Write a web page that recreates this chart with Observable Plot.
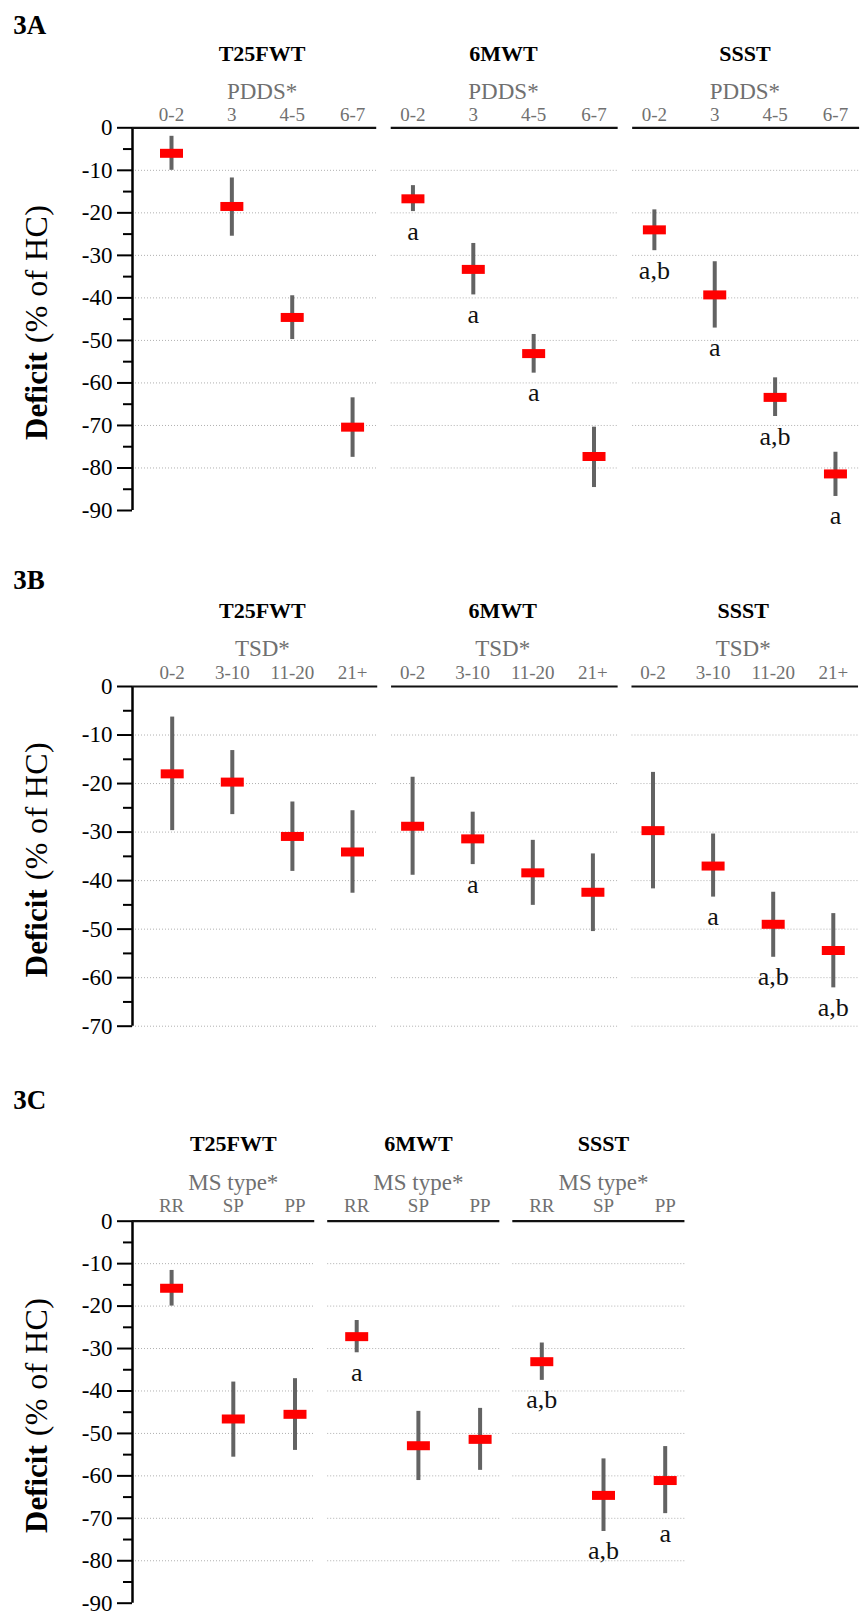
<!DOCTYPE html>
<html>
<head>
<meta charset="utf-8">
<script src="https://cdn.jsdelivr.net/npm/d3@7"></script>
<script src="https://cdn.jsdelivr.net/npm/@observablehq/plot@0.6"></script>
<style>
  body { margin: 0; background: #fff; }
  #root { width: 862px; }
  #root svg { display: block; font-family: "Liberation Serif", "Times New Roman", serif !important; }
  #root svg text { font-family: "Liberation Serif", "Times New Roman", serif !important; }
</style>
</head>
<body>
<div id="root"></div>
<script>
// ---------------- DATA ----------------
const tests = ["T25FWT", "6MWT", "SSST"];

// 3A – PDDS
const pddsCategories = ["0-2", "3", "4-5", "6-7"];
const pddsMean  = [[-6.0, -18.5, -44.6, -70.4], [-16.7, -33.3, -53.1, -77.3], [-24.0, -39.3, -63.4, -81.4]];
const pddsUpper = [[-2.0, -11.8, -39.5, -63.5], [-13.6, -27.2, -48.6, -70.4], [-19.3, -31.5, -58.8, -76.3]];
const pddsLower = [[-10.0, -25.5, -49.8, -77.5], [-19.7, -39.3, -57.7, -84.6], [-28.9, -47.1, -67.9, -86.7]];
const pddsLetters = [["", "", "", ""], ["a", "a", "a", ""], ["a,b", "a", "a,b", "a"]];
const pddsYTicks = [0, -10, -20, -30, -40, -50, -60, -70, -80, -90];
const pddsGrid = [-10, -20, -30, -40, -50, -60, -70, -80];

// 3B – TSD
const tsdCategories = ["0-2", "3-10", "11-20", "21+"];
const tsdMean  = [[-18.0, -19.7, -30.9, -34.1], [-28.8, -31.4, -38.4, -42.4], [-29.7, -37.0, -49.0, -54.4]];
const tsdUpper = [[-6.3, -13.2, -23.8, -25.6], [-18.7, -25.9, -31.7, -34.5], [-17.7, -30.4, -42.4, -46.8]];
const tsdLower = [[-29.7, -26.4, -38.1, -42.6], [-38.9, -36.7, -45.1, -50.5], [-41.7, -43.4, -55.8, -62.1]];
const tsdLetters = [["", "", "", ""], ["", "a", "", ""], ["", "a", "a,b", "a,b"]];
const tsdYTicks = [0, -10, -20, -30, -40, -50, -60, -70];
const tsdGrid = [-10, -20, -30, -40, -50, -60, -70];

// 3C – MS type
const msCategories = ["RR", "SP", "PP"];
const msMean  = [[-15.8, -46.6, -45.5], [-27.2, -52.9, -51.4], [-33.1, -64.6, -61.1]];
const msUpper = [[-11.6, -37.9, -37.1], [-23.4, -44.8, -44.1], [-28.7, -56.0, -53.1]];
const msLower = [[-20.0, -55.6, -54.0], [-31.0, -61.1, -58.7], [-37.5, -73.1, -68.9]];
const msLetters = [["", "", ""], ["a", "", ""], ["a,b", "a,b", "a"]];
const msYTicks = [0, -10, -20, -30, -40, -50, -60, -70, -80, -90];
const msGrid = [-10, -20, -30, -40, -50, -60, -70, -80];

// ---------------- LAYOUT ----------------
const FONT = "Liberation Serif";
const W = 862, AXIS_X = 132;
const redBar = { draw(ctx) { ctx.rect(-11.5, -4.5, 23, 9); } };

function section(cfg) {
  const n = cfg.cats.length;
  const rows = [];
  tests.forEach((t, p) => cfg.cats.forEach((c, j) => rows.push({
    test: t, cat: c, u: p * n + j,
    mean: cfg.mean[p][j], lo: cfg.lower[p][j], hi: cfg.upper[p][j], letter: cfg.letters[p][j]
  })));
  const xDomain = [(AXIS_X - cfg.x0) / cfg.step, (W - cfg.x0) / cfg.step];
  const panels = tests.map((t, p) => ({
    test: t,
    x1: p === 0 ? xDomain[0] : p * n - cfg.padL,
    x2: Math.min(p * n + n - 1 + cfg.padR, xDomain[1]),
    mid: p * n + (n - 1) / 2
  }));
  const gridRows = panels.flatMap(pn => cfg.grid.map(v => ({...pn, v})));
  const yMin = cfg.yTicks[cfg.yTicks.length - 1];
  const minor = cfg.yTicks.slice(1).map(v => v + 5);
  const T = { fontFamily: FONT };

  const svg = Plot.plot({
    width: W, height: cfg.height,
    marginTop: cfg.marginTop, marginBottom: cfg.marginBottom,
    marginLeft: AXIS_X, marginRight: 0,
    style: "font-family: 'Liberation Serif', serif; background: #fff; overflow: visible;",
    x: { domain: xDomain, axis: null },
    y: { domain: [yMin, 0], axis: null, label: null },
    marks: [
      Plot.ruleY(gridRows, { y: "v", x1: "x1", x2: "x2", stroke: "#b0b0b0", strokeWidth: 1, strokeDasharray: "1,2" }),
      Plot.axisY({ ticks: cfg.yTicks, tickSize: 15, tickPadding: 5, tickFormat: d => String(d),
                   fontSize: 23, fontFamily: FONT, stroke: "#000", fill: "#000", strokeWidth: 2, label: null }),
      Plot.axisY({ ticks: minor, tickSize: 9, tickFormat: () => "", stroke: "#000", strokeWidth: 2, label: null }),
      Plot.ruleX([xDomain[0]], { y1: 0, y2: yMin, stroke: "#000", strokeWidth: 2.5 }),
      Plot.ruleY(panels, { y: 0, x1: "x1", x2: "x2", stroke: "#111", strokeWidth: 2.2 }),
      Plot.ruleX(rows, { x: "u", y1: "lo", y2: "hi", stroke: "#636363", strokeWidth: 4 }),
      Plot.dot(rows, { x: "u", y: "mean", symbol: redBar, fill: "#ff0000", stroke: "none", r: 5 }),
      Plot.text(rows.filter(d => d.letter), { ...T, x: "u", y: "lo", text: "letter", dy: 28, lineAnchor: "bottom",
                   fontSize: 26, fill: "#111" }),
      Plot.text(rows, { ...T, x: "u", y: 0, text: "cat", dy: cfg.dyCat, lineAnchor: "bottom", fontSize: 19, fill: "#707070" }),
      Plot.text(panels, { ...T, x: "mid", y: 0, text: () => cfg.factor, dy: cfg.dyFactor, lineAnchor: "bottom", fontSize: 23, fill: "#707070" }),
      Plot.text(panels, { ...T, x: "mid", y: 0, text: "test", dy: cfg.dyTitle, lineAnchor: "bottom", fontSize: 22, fontWeight: "bold", fill: "#000" }),
      Plot.text([cfg.tag], { ...T, frameAnchor: "top-left", text: d => d, dx: 12.7 - AXIS_X, dy: cfg.dyTag, lineAnchor: "bottom",
                   textAnchor: "start", fontSize: 27, fontWeight: "bold", fill: "#000" }),
      Plot.text(["Deficit"], { ...T, frameAnchor: "left", text: d => d, rotate: -90, textAnchor: "end", lineAnchor: "bottom",
                   dx: 46.7 - AXIS_X, dy: 33, fontSize: 31, fontWeight: "bold", fill: "#000" }),
      Plot.text(["(% of HC)"], { ...T, frameAnchor: "left", text: d => d, rotate: -90, textAnchor: "start", lineAnchor: "bottom",
                   dx: 46.7 - AXIS_X, dy: 24, fontSize: 32, fill: "#000" })
    ]
  });
  // stretch the unit part of the y label to the reference length
  svg.querySelectorAll("text").forEach(t => {
    if (t.textContent === "(% of HC)") {
      t.setAttribute("textLength", 138);
      t.setAttribute("lengthAdjust", "spacing");
    }
  });
  return svg;
}

const root = document.getElementById("root");
root.append(section({
  tag: "3A", factor: "PDDS*", cats: pddsCategories, mean: pddsMean, upper: pddsUpper, lower: pddsLower,
  letters: pddsLetters, yTicks: pddsYTicks, grid: pddsGrid,
  height: 550, marginTop: 127.3, marginBottom: 40, x0: 171, step: 60.36, padL: 0.36, padR: 0.40,
  dyTag: -94, dyTitle: -67.3, dyFactor: -29, dyCat: -6.6
}));
root.append(section({
  tag: "3B", factor: "TSD*", cats: tsdCategories, mean: tsdMean, upper: tsdUpper, lower: tsdLower,
  letters: tsdLetters, yTicks: tsdYTicks, grid: tsdGrid,
  height: 510, marginTop: 136, marginBottom: 34.3, x0: 171.7, step: 60.1, padL: 0.35, padR: 0.42,
  dyTag: -98, dyTitle: -68.7, dyFactor: -30.5, dyCat: -7.7
}));
root.append(section({
  tag: "3C", factor: "MS type*", cats: msCategories, mean: msMean, upper: msUpper, lower: msLower,
  letters: msLetters, yTicks: msYTicks, grid: msGrid,
  height: 553, marginTop: 160.7, marginBottom: 10.3, x0: 171.1, step: 61.7, padL: 0.47, padR: 0.32,
  dyTag: -112.4, dyTitle: -70, dyFactor: -31.4, dyCat: -9
}));
</script>
</body>
</html>
